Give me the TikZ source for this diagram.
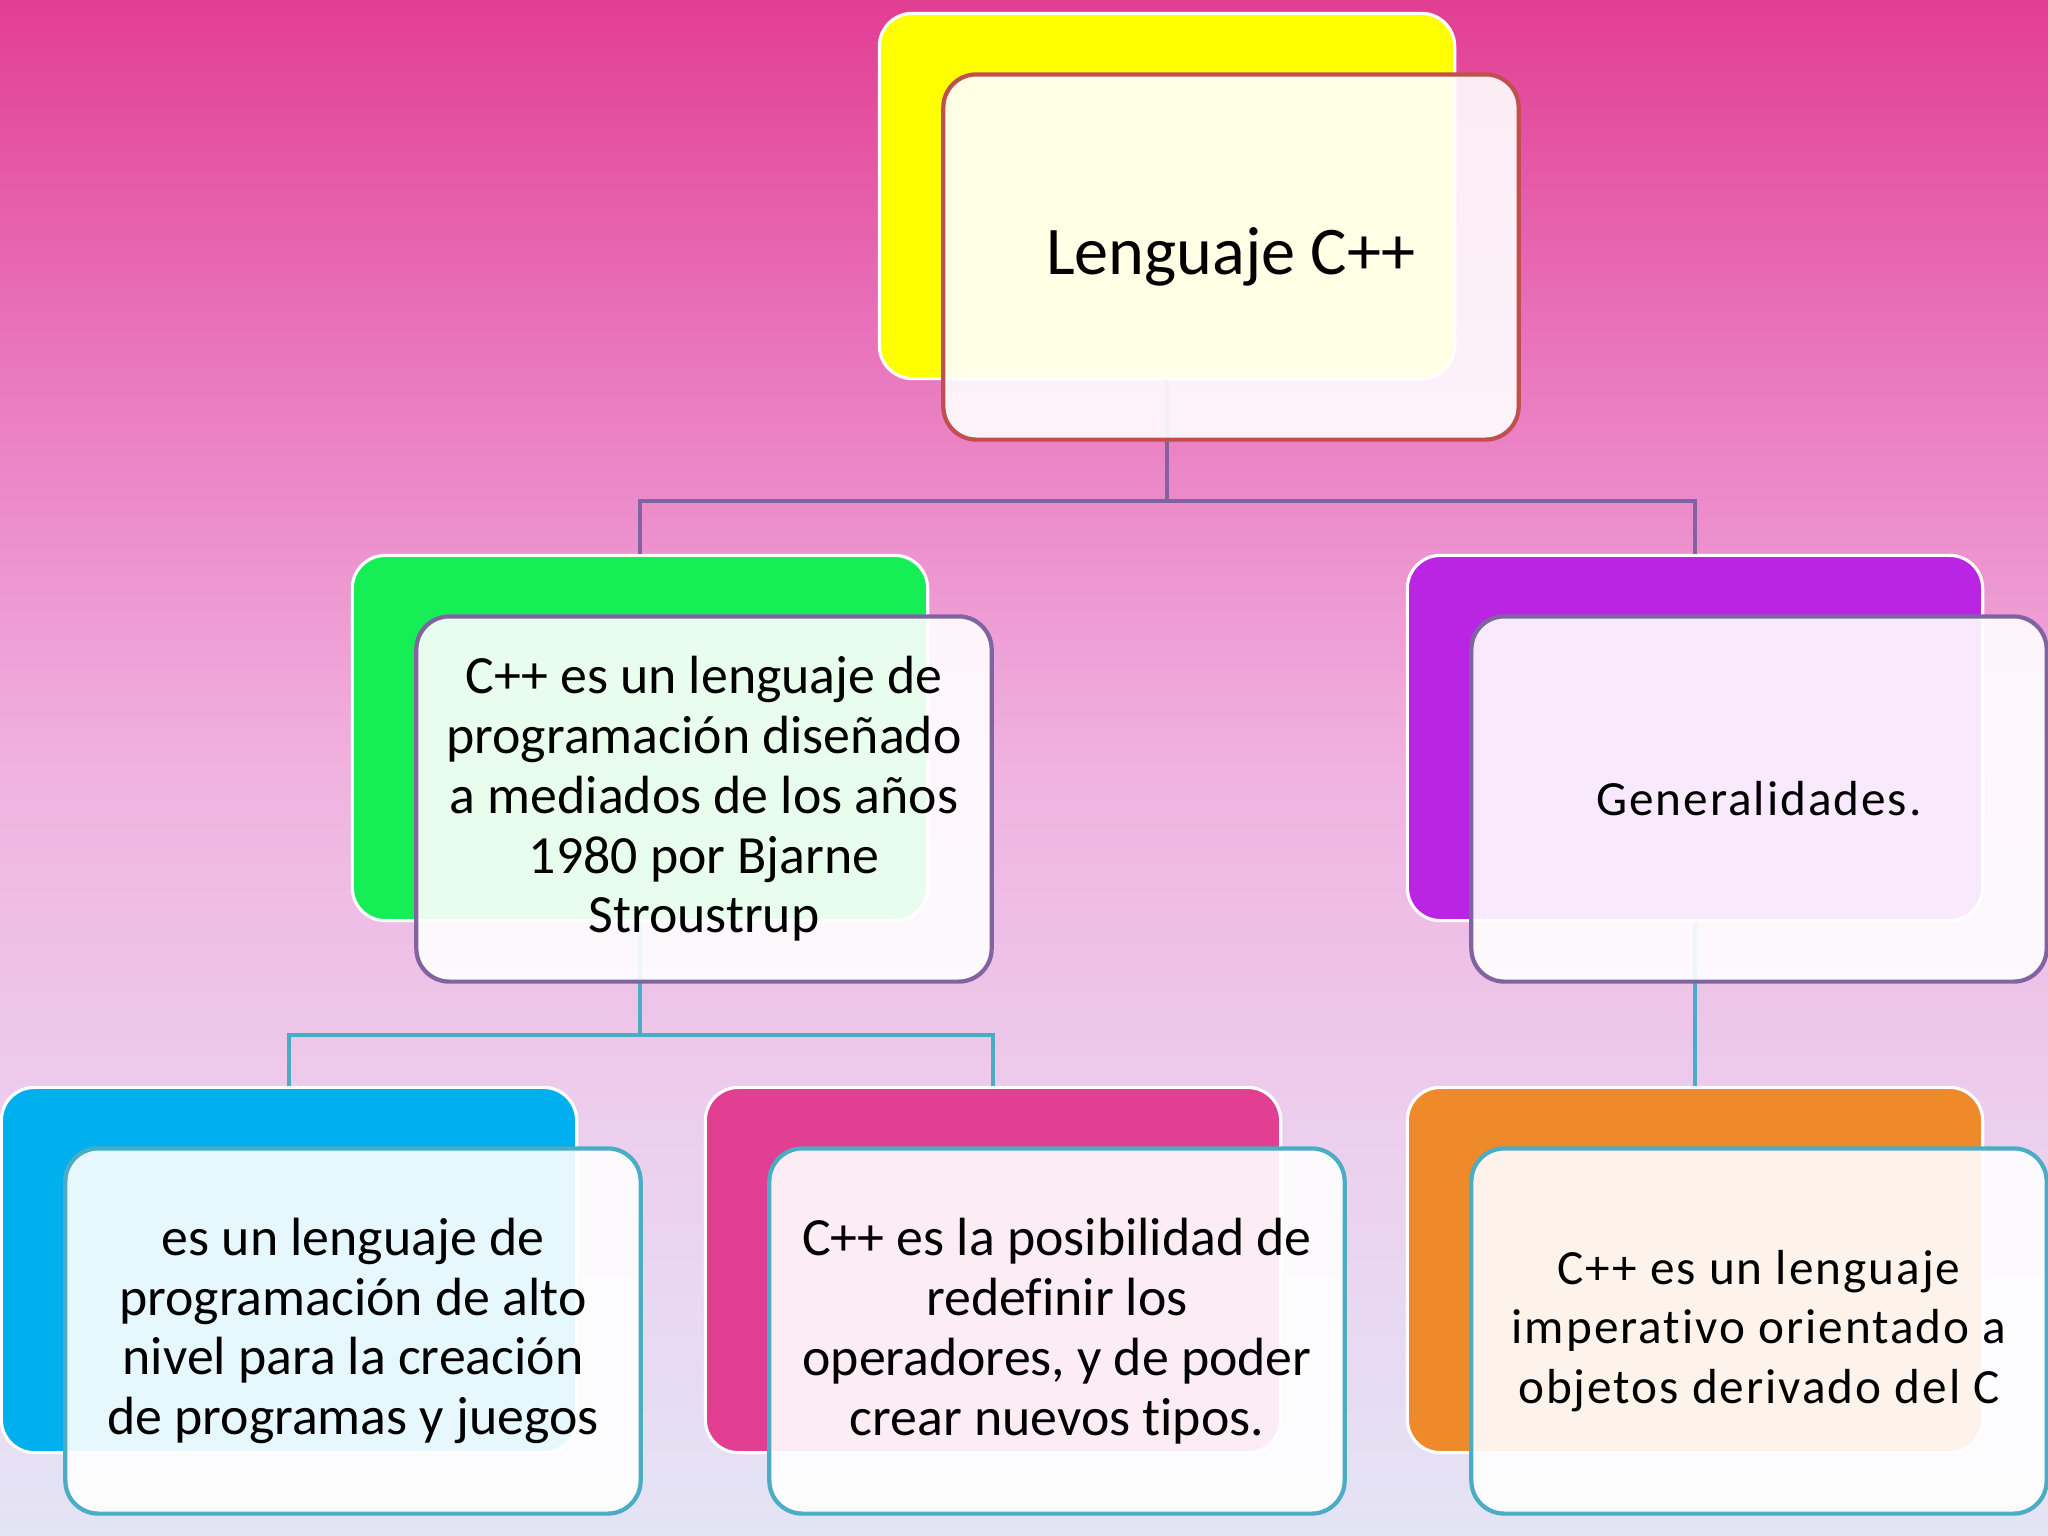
\documentclass[tikz,border=0pt]{standalone}
\usepackage{fontspec}
\setmainfont{Carlito}[Ligatures=NoCommon]
\newfontfamily\spacedfont[LetterSpace=4, Ligatures=NoCommon]{Carlito}
\usetikzlibrary{positioning, calc}

\definecolor{bgTop}{RGB}{226,62,146}
\definecolor{bgHigh}{RGB}{234,122,192}
\definecolor{bgMid}{RGB}{240,178,224}
\definecolor{bgLow}{RGB}{236,208,238}
\definecolor{bgBot}{RGB}{228,228,245}
\definecolor{boxYellow}{RGB}{255,255,0}
\definecolor{boxGreen}{RGB}{22,238,86}
\definecolor{boxPurple}{RGB}{185,37,226}
\definecolor{boxBlue}{RGB}{0,176,238}
\definecolor{boxPink}{RGB}{226,62,146}
\definecolor{boxOrange}{RGB}{238,138,42}
\definecolor{lineRed}{RGB}{192,80,77}
\definecolor{linePurple}{RGB}{128,100,162}
\definecolor{lineTeal}{RGB}{75,172,198}

\pgfdeclareverticalshading{slidebg}{100bp}{color(0bp)=(bgBot); color(25bp)=(bgBot); color(37.5bp)=(bgLow); color(50bp)=(bgMid); color(62.5bp)=(bgHigh); color(75bp)=(bgTop); color(100bp)=(bgTop)}

\tikzset{
    backbox/.style={
        rectangle,
        rounded corners=0.33cm,
        draw=white,
        line width=0.9pt,
        minimum width=5.75cm,
        minimum height=3.65cm,
    },
    frontbox/.style={
        rectangle,
        rounded corners=0.33cm,
        line width=1.2pt,
        fill=white,
        fill opacity=0.9,
        text opacity=1,
        minimum width=5.75cm,
        minimum height=3.65cm,
        align=center,
        font=\fontsize{15.3}{17}\selectfont,
    },
    link/.style={
        line width=1.2pt,
    },
}

\begin{document}
\begin{tikzpicture}[x=0.01cm, y=-0.01cm]
    \useasboundingbox (0,0) rectangle (2048,1536);
    \shade[shading=slidebg] (0,0) rectangle (2048,1536);

    % back boxes
    \node [backbox, fill=boxYellow] (cppB) at (1167,196) {};
    \node [backbox, fill=boxGreen] (histB) at (640,738) {};
    \node [backbox, fill=boxPurple] (genB) at (1695,738) {};
    \node [backbox, fill=boxBlue] (altoB) at (289,1270) {};
    \node [backbox, fill=boxPink] (operB) at (993,1270) {};
    \node [backbox, fill=boxOrange] (impB) at (1695,1270) {};

    % connectors
    \draw[link, linePurple] (cppB.south) -- ++(0,121) -| (histB.north);
    \draw[link, linePurple] (cppB.south) -- ++(0,121) -| (genB.north);
    \draw[link, lineTeal] (histB.south) -- ++(0,113) -| (altoB.north);
    \draw[link, lineTeal] (histB.south) -- ++(0,113) -| (operB.north);
    \draw[link, lineTeal] (genB.south) -- (impB.north);

    % front boxes
    \node [frontbox, draw=lineRed, font=\fontsize{19.4}{23}\selectfont] (cpp) at ($(cppB)+(64,61)$) {Lenguaje C++};
    \node [frontbox, draw=linePurple] (hist) at ($(histB)+(64,61)$)
        {C++ es un lenguaje de\\programación diseñado\\a mediados de los años\\1980 por Bjarne\\Stroustrup};
    \node [frontbox, draw=linePurple, font=\fontsize{14}{17}\selectfont] (gen) at ($(genB)+(64,61)$) {\spacedfont Generalidades.};
    \node [frontbox, draw=lineTeal] (alto) at ($(altoB)+(64,61)$)
        {es un lenguaje de\\programación de alto\\nivel para la creación\\de programas y juegos};
    \node [frontbox, draw=lineTeal] (oper) at ($(operB)+(64,61)$)
        {C++ es la posibilidad de\\redefinir los\\operadores, y de poder\\crear nuevos tipos.};
    \node [frontbox, draw=lineTeal, font=\fontsize{14}{17}\selectfont] (imp) at ($(impB)+(64,61)$)
        {\spacedfont C++ es un lenguaje\\\spacedfont imperativo orientado a\\\spacedfont objetos derivado del C};
\end{tikzpicture}
\end{document}
